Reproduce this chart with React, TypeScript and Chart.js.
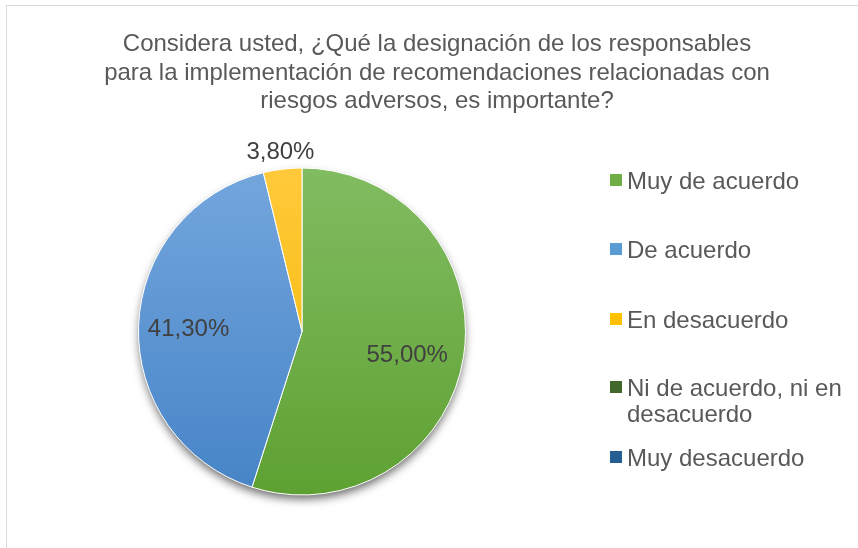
import React, { useEffect, useRef } from "react";
import { Chart, registerables } from "chart.js";

Chart.register(...registerables);

const titleLines = [
  "Considera usted, ¿Qué la designación de los responsables",
  "para la implementación de recomendaciones relacionadas con",
  "riesgos adversos, es importante?",
];
const categories = [
  "Muy de acuerdo",
  "De acuerdo",
  "En desacuerdo",
  "Ni de acuerdo, ni en desacuerdo",
  "Muy desacuerdo",
];
const legendLines = [
  ["Muy de acuerdo"],
  ["De acuerdo"],
  ["En desacuerdo"],
  ["Ni de acuerdo, ni en", "desacuerdo"],
  ["Muy desacuerdo"],
];
const values = [55.0, 41.3, 3.8, 0, 0];
const valueLabels = ["55,00%", "41,30%", "3,80%", "", ""];
const baseColors = ["#70AD47", "#5B9BD5", "#FFC000", "#43682B", "#255E91"];
const topColors = ["#82BC62", "#74A6DD", "#FFC93A", "#4D7533", "#2E6AA0"];
const bottomColors = ["#5EA132", "#4684C7", "#F5B700", "#3A5C25", "#1F5282"];

const FONT = "Arial, 'Liberation Sans', sans-serif";

const decorPlugin = {
  id: "decor",
  beforeDraw(chart: any) {
    const ctx = chart.ctx;
    ctx.save();
    ctx.fillStyle = "#ffffff";
    ctx.fillRect(0, 0, chart.width, chart.height);
    ctx.strokeStyle = "#D9D9D9";
    ctx.lineWidth = 1;
    ctx.strokeRect(6.5, 5.5, chart.width + 20, chart.height + 20);
    // title
    ctx.fillStyle = "#595959";
    ctx.font = `24px ${FONT}`;
    ctx.textAlign = "center";
    ctx.textBaseline = "alphabetic";
    titleLines.forEach((l, i) => ctx.fillText(l, 437, 51 + i * 28.5));
    ctx.restore();
  },
  beforeDatasetsDraw(chart: any) {
    const meta = chart.getDatasetMeta(0);
    const arc = meta.data[0];
    if (!arc) return;
    const ctx = chart.ctx;
    ctx.save();
    ctx.shadowColor = "rgba(0,0,0,0.6)";
    ctx.shadowBlur = 10;
    ctx.shadowOffsetY = 5;
    ctx.fillStyle = "#ffffff";
    ctx.beginPath();
    ctx.arc(arc.x, arc.y, arc.outerRadius - 1, 0, Math.PI * 2);
    ctx.fill();
    ctx.restore();
  },
  afterDatasetsDraw(chart: any) {
    const ctx = chart.ctx;
    const meta = chart.getDatasetMeta(0);
    ctx.save();
    ctx.font = `24px ${FONT}`;
    ctx.fillStyle = "#404040";
    ctx.textAlign = "center";
    ctx.textBaseline = "middle";
    meta.data.forEach((a: any, i: number) => {
      const txt = valueLabels[i];
      if (!txt) return;
      const mid = (a.startAngle + a.endAngle) / 2;
      const span = a.endAngle - a.startAngle;
      const r = span < 0.5 ? a.outerRadius + 18 : a.outerRadius * 0.67;
      const yAdj = span > Math.PI ? 7 : span < 0.5 ? 1 : 2;
      const xAdj = span > Math.PI ? -3 : span < 0.5 ? 0 : -4;
      ctx.fillText(txt, a.x + Math.cos(mid) * r + xAdj, a.y + Math.sin(mid) * r + yAdj);
    });
    // legend
    ctx.textAlign = "left";
    ctx.textBaseline = "alphabetic";
    const baselines = [[189], [258], [328], [396, 422], [466]];
    legendLines.forEach((lines, i) => {
      ctx.fillStyle = baseColors[i];
      ctx.fillRect(610, baselines[i][0] - 15, 12, 12);
      ctx.fillStyle = "#595959";
      lines.forEach((l, j) => ctx.fillText(l, 627, baselines[i][j]));
    });
    ctx.restore();
  },
};

export default function App() {
  const ref = useRef<HTMLCanvasElement>(null);
  useEffect(() => {
    if (!ref.current) return;
    const grad = (ctx: any) => {
      const chart = ctx.chart;
      const area = chart.chartArea;
      const i = ctx.dataIndex;
      if (!area) return baseColors[i];
      const g = chart.ctx.createLinearGradient(0, area.top, 0, area.bottom);
      g.addColorStop(0, topColors[i]);
      g.addColorStop(1, bottomColors[i]);
      return g;
    };
    const chart = new Chart(ref.current, {
      type: "pie",
      data: {
        labels: categories,
        datasets: [
          {
            data: values,
            backgroundColor: grad as any,
            borderColor: "#ffffff",
            borderWidth: ((c: any) => (values[c.dataIndex] === 0 ? 0 : 1)) as any,
          },
        ],
      },
      options: {
        responsive: false,
        animation: false,
        layout: { padding: { left: 138, right: 392, top: 167, bottom: 52 } },
        plugins: {
          legend: { display: false },
          title: { display: false },
          tooltip: { enabled: false },
        },
      },
      plugins: [decorPlugin],
    });
    return () => chart.destroy();
  }, []);
  return (
    <div style={{ position: "fixed", left: 0, top: 0, width: 858, height: 548, background: "#fff" }}>
      <canvas ref={ref} width={858} height={548} style={{ display: "block" }} />
    </div>
  );
}
